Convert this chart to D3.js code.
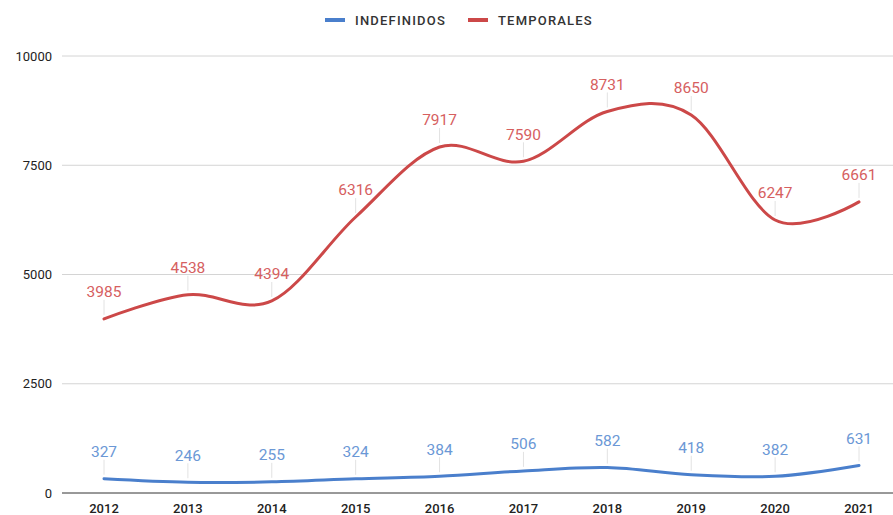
<!DOCTYPE html>
<html>
<head>
<meta charset="utf-8">
<script src="https://cdn.jsdelivr.net/npm/d3@7"></script>
<style>
  body { margin: 0; background: #fff; }
  svg { display: block; font-family: Roboto, "Open Sans", sans-serif; }
</style>
</head>
<body>
<svg id="chart" width="893" height="515"></svg>
<script>
// chart data
const years = [2012, 2013, 2014, 2015, 2016, 2017, 2018, 2019, 2020, 2021];
const indefinidos = [327, 246, 255, 324, 384, 506, 582, 418, 382, 631];
const temporales = [3985, 4538, 4394, 6316, 7917, 7590, 8731, 8650, 6247, 6661];
const yTicks = [0, 2500, 5000, 7500, 10000];
const seriesNames = ['INDEFINIDOS', 'TEMPORALES'];
const lineColors = ['#4a7fcc', '#cc4848'];
const labelColors = ['#6b98d6', '#d6605f'];

const svg = d3.select('#chart');
const margin = { top: 56, right: 0, bottom: 22, left: 62 };
const width = 893, height = 515;

const x = d3.scalePoint()
  .domain(years)
  .range([104, 859]);

const y = d3.scaleLinear()
  .domain([0, 10000])
  .range([height - margin.bottom, margin.top]);

// gridlines
svg.append('g')
  .selectAll('line')
  .data(yTicks.filter(d => d > 0))
  .join('line')
  .attr('x1', margin.left).attr('x2', width)
  .attr('y1', d => y(d)).attr('y2', d => y(d))
  .attr('stroke', '#d4d4d4')
  .attr('stroke-width', 1);

// baseline
svg.append('line')
  .attr('x1', margin.left).attr('x2', width)
  .attr('y1', y(0)).attr('y2', y(0))
  .attr('stroke', '#333')
  .attr('stroke-width', 1);

// y axis labels
svg.append('g')
  .selectAll('text')
  .data(yTicks)
  .join('text')
  .attr('x', 52)
  .attr('y', d => y(d))
  .attr('dy', '0.35em')
  .attr('text-anchor', 'end')
  .attr('font-size', 13)
  .attr('fill', '#222')
  .text(d => d);

// x axis labels
svg.append('g')
  .selectAll('text')
  .data(years)
  .join('text')
  .attr('x', d => x(d))
  .attr('y', 508)
  .attr('dy', '0.35em')
  .attr('text-anchor', 'middle')
  .attr('font-size', 13)
  .attr('font-weight', 500)
  .attr('fill', '#222')
  .text(d => d);

const line = d3.line()
  .x((d, i) => x(years[i]))
  .y(d => y(d))
  .curve(d3.curveCardinal.tension(0));

const series = [indefinidos, temporales];

series.forEach((vals, s) => {
  const g = svg.append('g');

  // leader lines from labels to points
  g.selectAll('line')
    .data(vals)
    .join('line')
    .attr('x1', (d, i) => x(years[i]))
    .attr('x2', (d, i) => x(years[i]))
    .attr('y1', d => y(d) - 4)
    .attr('y2', d => y(d) - 19)
    .attr('stroke', '#e2e2e2')
    .attr('stroke-width', 1);

  g.append('path')
    .datum(vals)
    .attr('d', line)
    .attr('fill', 'none')
    .attr('stroke', lineColors[s])
    .attr('stroke-width', 3)
    .attr('stroke-linecap', 'round');

  g.selectAll('text')
    .data(vals)
    .join('text')
    .attr('x', (d, i) => x(years[i]))
    .attr('y', d => y(d) - 27)
    .attr('dy', '0.35em')
    .attr('text-anchor', 'middle')
    .attr('font-size', 15.5)
    .attr('fill', labelColors[s])
    .text(d => d);
});

// legend
const legend = svg.append('g').attr('transform', 'translate(0,20)');
const legendX = [325, 468];
seriesNames.forEach((name, i) => {
  legend.append('rect')
    .attr('x', legendX[i]).attr('y', -2)
    .attr('width', 20).attr('height', 4)
    .attr('fill', lineColors[i]);
  legend.append('text')
    .attr('x', legendX[i] + 30)
    .attr('y', 0)
    .attr('dy', '0.35em')
    .attr('font-size', 13)
    .attr('font-weight', 500)
    .attr('letter-spacing', 1.2)
    .attr('fill', '#333')
    .text(name);
});
</script>
</body>
</html>
